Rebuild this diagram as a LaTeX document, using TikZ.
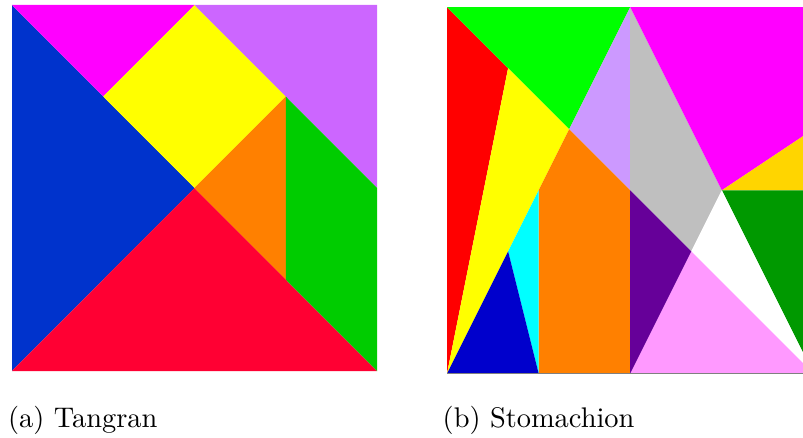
\documentclass[tikz,border=0pt]{standalone}
\usepackage{fontspec}
\newfontfamily\capfont{lmroman10-regular}[Extension=.otf]
\definecolor{tMag}{HTML}{FF00FF}
\definecolor{tLav}{HTML}{CC66FF}
\definecolor{tYel}{HTML}{FFFF00}
\definecolor{tBlu}{HTML}{0033CC}
\definecolor{tRed}{HTML}{FF0033}
\definecolor{tOra}{HTML}{FF8000}
\definecolor{tGre}{HTML}{00CC00}
\definecolor{sRed}{HTML}{FF0000}
\definecolor{sGre}{HTML}{00FF00}
\definecolor{sYel}{HTML}{FFFF00}
\definecolor{sLav}{HTML}{CC99FF}
\definecolor{sGra}{HTML}{BFBFBF}
\definecolor{sMag}{HTML}{FF00FF}
\definecolor{sGol}{HTML}{FFD500}
\definecolor{sDGr}{HTML}{009900}
\definecolor{sPin}{HTML}{FF99FF}
\definecolor{sPur}{HTML}{660099}
\definecolor{sOra}{HTML}{FF8000}
\definecolor{sCya}{HTML}{00FFFF}
\definecolor{sBlu}{HTML}{0000CC}
\tikzset{
  piece/.style={line join=round},
  caption/.style={anchor=base west, inner sep=0pt, font=\capfont\fontsize{28.4}{34}\selectfont}
}
\begin{document}
\begin{tikzpicture}[x=1pt,y=1pt]
\useasboundingbox (0,0) rectangle (803,437);
% (a) Tangram
\begin{scope}[shift={(12,66)}, x=91.25pt, y=91.5pt]
  \fill[tBlu,piece] (0,0) -- (0,4) -- (2,2) -- cycle;
  \fill[tRed,piece] (0,0) -- (4,0) -- (2,2) -- cycle;
  \fill[tMag,piece] (0,4) -- (2,4) -- (1,3) -- cycle;
  \fill[tYel,piece] (2,4) -- (3,3) -- (2,2) -- (1,3) -- cycle;
  \fill[tLav,piece] (2,4) -- (4,4) -- (4,2) -- (3,3) -- cycle;
  \fill[tOra,piece] (2,2) -- (3,3) -- (3,1) -- cycle;
  \fill[tGre,piece] (3,3) -- (4,2) -- (4,0) -- (3,1) -- cycle;
\end{scope}
% (b) Stomachion
\begin{scope}
  \clip (447,0) rectangle (803,437);
  \begin{scope}[shift={(447,63.5)}, x=30.54pt, y=30.54pt]
    \fill[sRed,piece] (0,12) -- (2,10) -- (0,0) -- cycle;
    \fill[sGre,piece] (0,12) -- (6,12) -- (4,8) -- (2,10) -- cycle;
    \fill[sYel,piece] (0,0) -- (2,10) -- (4,8) -- cycle;
    \fill[sLav,piece] (6,12) -- (6,6) -- (4,8) -- cycle;
    \fill[sOra,piece] (4,8) -- (6,6) -- (6,0) -- (3,0) -- (3,6) -- cycle;
    \fill[sCya,piece] (3,6) -- (3,0) -- (2,4) -- cycle;
    \fill[sBlu,piece] (0,0) -- (2,4) -- (3,0) -- cycle;
    \fill[sGra,piece] (6,12) -- (9,6) -- (8,4) -- (6,6) -- cycle;
    \fill[sMag,piece] (6,12) -- (12,12) -- (12,8) -- (9,6) -- cycle;
    \fill[sGol,piece] (9,6) -- (12,8) -- (12,6) -- cycle;
    \fill[sDGr,piece] (9,6) -- (12,6) -- (12,0) -- cycle;
    \fill[white,piece] (9,6) -- (12,0) -- (8,4) -- cycle;
    \fill[sPin,piece] (6,0) -- (12,0) -- (8,4) -- cycle;
    \fill[sPur,piece] (6,0) -- (8,4) -- (6,6) -- cycle;
    \draw[gray, line width=0.8pt] (0,0) -- (12,0);
  \end{scope}
\end{scope}
% captions
\node[caption] (capa) at (8,10) {(a) Tangran};
\node[caption] (capb) at (442.5,10) {(b) Stomachion};
\end{tikzpicture}
\end{document}
